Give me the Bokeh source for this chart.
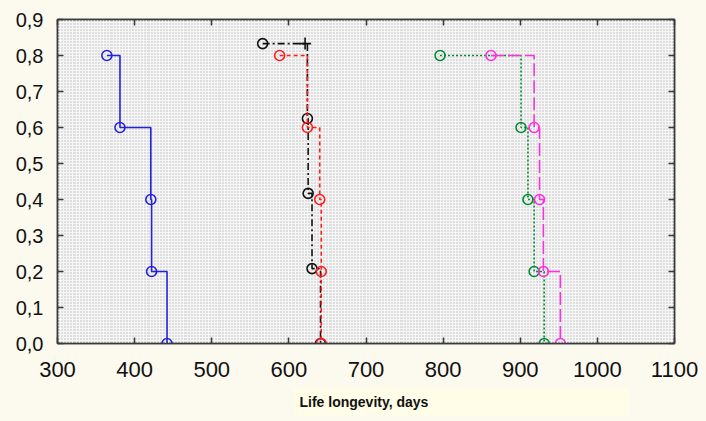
from bokeh.plotting import figure
from bokeh.models import LinearAxis, FixedTicker, CustomJSTickFormatter, Title
from bokeh.embed import file_html
from bokeh.resources import INLINE

# Kaplan-Meier style cumulative proportion surviving
blue_t = [364, 381, 421, 422, 442]
blue_s = [0.8, 0.6, 0.4, 0.2, 0.0]
black_t = [566, 624, 625, 630, 641]
black_s = [0.833, 0.625, 0.417, 0.208, 0.0]
black_cens_t = [621]
black_cens_s = [0.833]
red_t = [588, 624, 640, 642, 642]
red_s = [0.8, 0.6, 0.4, 0.2, 0.0]
green_t = [796, 901, 910, 918, 931]
green_s = [0.8, 0.6, 0.4, 0.2, 0.0]
magenta_t = [862, 918, 925, 930, 952]
magenta_s = [0.8, 0.6, 0.4, 0.2, 0.0]

x_ticks = [300, 400, 500, 600, 700, 800, 900, 1000, 1100]
y_ticks = [0.0, 0.1, 0.2, 0.3, 0.4, 0.5, 0.6, 0.7, 0.8, 0.9]
x_label = "Life longevity, days"

BG = "#FCF9EE"
FONT = "Liberation Sans"

x_minor = [300 + 4 * i for i in range(201)]
y_minor = [0.9 * i / 108 for i in range(109)]
xt = FixedTicker(ticks=x_ticks, minor_ticks=x_minor)
yt = FixedTicker(ticks=y_ticks, minor_ticks=y_minor)

p = figure(frame_width=617, frame_height=324, x_range=(300, 1100), y_range=(0, 0.9),
           output_backend="svg", toolbar_location=None,
           min_border_left=57, min_border_top=19, min_border_right=24, min_border_bottom=4,
           background_fill_color="#dedede", border_fill_color=BG)

p.xaxis.ticker = xt
p.yaxis.ticker = yt
for g in (p.xgrid, p.ygrid):
    g.grid_line_color = "#f6f6f6"
    g.minor_grid_line_color = "#f6f6f6"
    g.grid_line_width = 1
    g.minor_grid_line_width = 1

p.outline_line_color = "#3a3a3a"
p.outline_line_width = 1.5

p.yaxis.formatter = CustomJSTickFormatter(code="return tick.toFixed(1).replace('.', ',');")
p.yaxis.major_label_text_font_size = "20px"
p.xaxis.major_label_text_font_size = "22px"
p.yaxis.major_label_standoff = 10
p.xaxis.major_label_standoff = 14

top = LinearAxis(ticker=xt, formatter=CustomJSTickFormatter(code="return '';"))
right = LinearAxis(ticker=yt, formatter=CustomJSTickFormatter(code="return '';"))
p.add_layout(top, "above")
p.add_layout(right, "right")

for ax in p.xaxis + p.yaxis:
    ax.major_tick_in = 6
    ax.major_tick_out = 0
    ax.minor_tick_line_color = None
    ax.axis_line_color = "#3a3a3a"
    ax.axis_line_width = 1.5
    ax.major_tick_line_color = "#3a3a3a"
    ax.major_tick_line_width = 1.5
    ax.major_label_text_font = FONT
    ax.major_label_text_color = "#111111"
for ax in (top, right):
    ax.major_label_text_font_size = "1px"
    ax.major_label_standoff = 0

p.add_layout(Title(text=x_label, align="left", offset=236, text_font=FONT,
                   text_font_size="14px", text_font_style="bold", text_color="#111111",
                   background_fill_color="#FFFDE8",
                   padding=dict(left=6, right=201, top=6, bottom=6), standoff=12), "below")

series = [
    (blue_t, blue_s, "#2323dc", "solid"),
    (black_t, black_s, "#111111", "7 3 2 3"),
    (red_t, red_s, "#ff1e1e", "4 3"),
    (green_t, green_s, "#008c32", "2 2"),
    (magenta_t, magenta_s, "#ff2ee0", "13 4"),
]
for t, s, c, d in series:
    p.step(t, s, mode="after", line_color=c, line_width=1.6, line_dash=d)
    p.scatter(t, s, marker="circle", size=10, fill_color=None, line_color=c, line_width=1.6)
p.scatter(black_cens_t, black_cens_s, marker="cross", size=12, line_color="#111111", line_width=1.6)

html = file_html(p, INLINE)
html = html.replace("<body>", '<body style="background-color:%s;">' % BG)
open("out.html", "w").write(html)
